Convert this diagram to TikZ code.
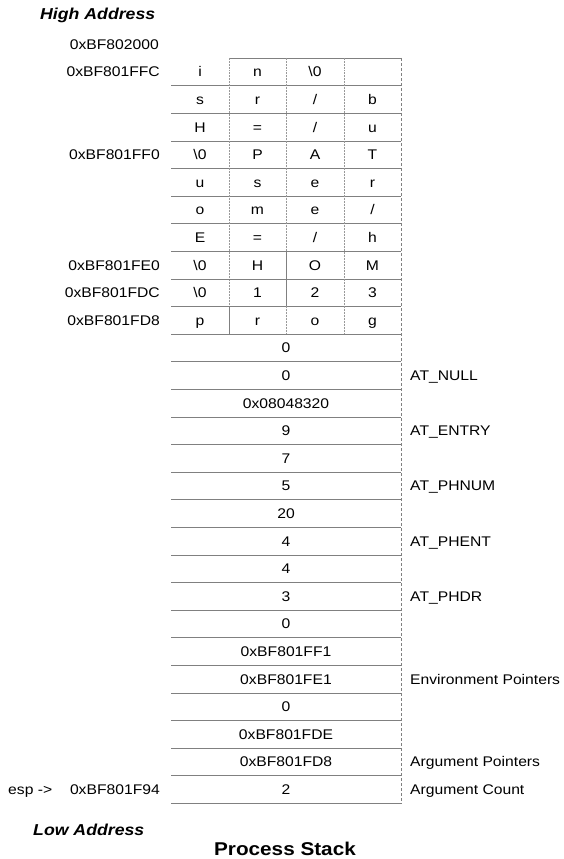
\documentclass[tikz,border=0pt]{standalone}
\usepackage{fontspec}
\setmainfont{Liberation Sans}[FakeStretch=1.12]
\newcommand\bzero{\textbackslash 0}
\newcommand\slsh{/}
\begin{document}
\begin{tikzpicture}[x=1pt,y=-1pt,
  lbl/.style={font=\fontsize{14}{16}\selectfont, inner sep=0pt, text height=10pt, text depth=0pt},
  ttl/.style={font=\fontsize{15.8}{18}\selectfont\bfseries\itshape, inner sep=0pt, text height=11.3pt, text depth=0pt, anchor=west},
  big/.style={font=\fontsize{18.5}{22}\selectfont\bfseries, inner sep=0pt, text height=13.2pt, text depth=0pt},
  rule/.style={draw=black!50, line width=0.6pt},
  sep/.style={draw=black!40, line width=0.5pt, densely dotted},
  border/.style={draw=black!50, line width=0.6pt, densely dashed}]
\useasboundingbox (0,0) rectangle (564,859);
% grid
\draw[rule] (229,58) -- (401,58);
\foreach \k in {1,...,27} \draw[rule] (171,58+27.6*\k) -- (401,58+27.6*\k);
\draw[border] (401,58) -- (401,803.2);
\foreach \x in {229,286,344} \draw[sep] (\x,58) -- (\x,334.0);
\draw[rule] (286,251.2) -- (286,306.4);
\draw[rule] (229,306.4) -- (229,334.0);
\draw[rule] (229,278.8) -- (286,278.8);
% byte rows
\foreach \r/\a/\b/\c/\d in {0/i/n/\bzero/{},1/s/r/\slsh/b,2/H/=/\slsh/u,3/\bzero/P/A/T,4/u/s/e/r,5/o/m/e/\slsh,6/E/=/\slsh/h,7/\bzero/H/O/M,8/\bzero/1/2/3,9/p/r/o/g}{
  \node[lbl] (b\r-1) at (200,71.8+27.6*\r) {\a};
  \node[lbl] (b\r-2) at (257.5,71.8+27.6*\r) {\b};
  \node[lbl] (b\r-3) at (315,71.8+27.6*\r) {\c};
  \node[lbl] (b\r-4) at (372.5,71.8+27.6*\r) {\d};
}
% word rows
\foreach \r/\v in {10/0,11/0,12/0x08048320,13/9,14/7,15/5,16/20,17/4,18/4,19/3,20/0,21/0xBF801FF1,22/0xBF801FE1,23/0,24/0xBF801FDE,25/0xBF801FD8,26/2}{
  \node[lbl] (w\r) at (286,71.8+27.6*\r) {\v};
}
% left addresses
\node[lbl,anchor=east] (a-top) at (159,44.2) {0xBF802000};
\foreach \r/\v in {0/0xBF801FFC,3/0xBF801FF0,7/0xBF801FE0,8/0xBF801FDC,9/0xBF801FD8,26/0xBF801F94}{
  \node[lbl,anchor=east] (a\r) at (160,71.8+27.6*\r) {\v};
}
\node[lbl,anchor=west] (esp) at (8,789.4) {esp ->};
% right labels
\foreach \r/\v in {11/AT\_NULL,13/AT\_ENTRY,15/AT\_PHNUM,17/AT\_PHENT,19/AT\_PHDR,22/Environment Pointers,25/Argument Pointers,26/Argument Count}{
  \node[lbl,anchor=west] (r\r) at (410,71.8+27.6*\r) {\v};
}
% titles
\node[ttl] (high) at (40,14) {High Address};
\node[ttl] (low) at (33,830) {Low Address};
\node[big] (title) at (285,849) {Process Stack};
\end{tikzpicture}
\end{document}
